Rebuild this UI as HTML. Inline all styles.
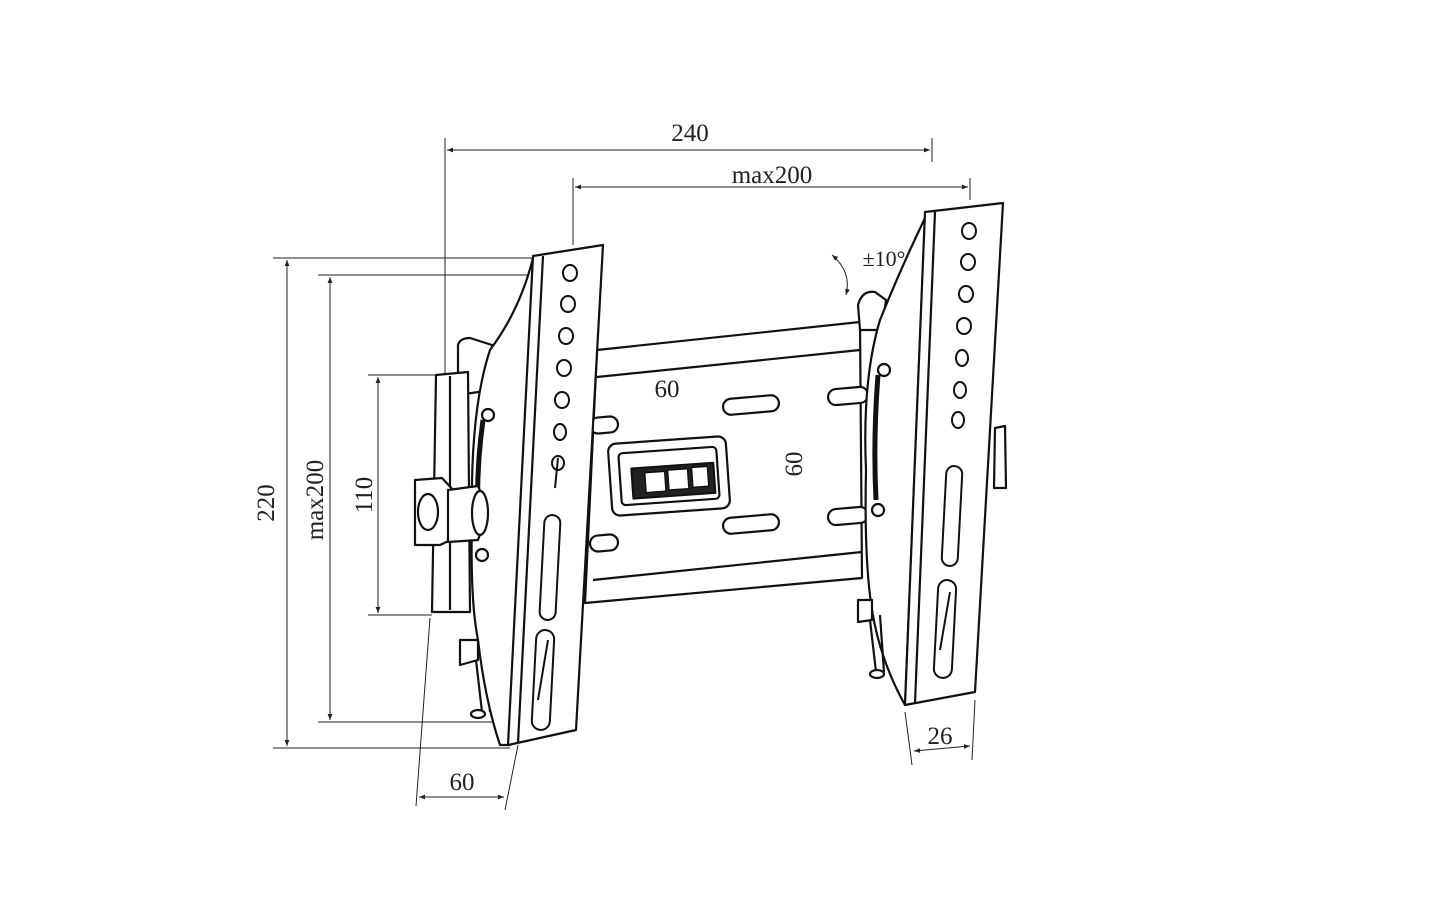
<!DOCTYPE html>
<html><head><meta charset="utf-8"><style>
html,body{margin:0;padding:0;background:#fff;}
svg{display:block;}
text{font-family:"Liberation Serif",serif;fill:#222;}
</style></head><body>
<svg width="1442" height="912" viewBox="0 0 1442 912" xmlns="http://www.w3.org/2000/svg">
<defs>
<marker id="a" viewBox="0 0 10 10" refX="10" refY="5" markerWidth="9" markerHeight="6" orient="auto-start-reverse"><path d="M0,1 L10,5 L0,9 z" fill="#222"/></marker>
</defs>
<rect width="1442" height="912" fill="#fff"/>
<g stroke="#222" stroke-width="1" fill="none">
<!-- dimension 240 -->
<line x1="445" y1="138" x2="445" y2="380"/>
<line x1="932" y1="138" x2="932" y2="162"/>
<line x1="447" y1="150" x2="930" y2="150" marker-start="url(#a)" marker-end="url(#a)"/>
<!-- max200 top -->
<line x1="573" y1="178" x2="573" y2="245"/>
<line x1="970" y1="178" x2="970" y2="200"/>
<line x1="575" y1="187" x2="968" y2="187" marker-start="url(#a)" marker-end="url(#a)"/>
<!-- 220 -->
<line x1="273" y1="258" x2="535" y2="258"/>
<line x1="273" y1="748" x2="510" y2="748"/>
<line x1="287" y1="260" x2="287" y2="746" marker-start="url(#a)" marker-end="url(#a)"/>
<!-- max200 vertical -->
<line x1="318" y1="275" x2="565" y2="275"/>
<line x1="318" y1="722" x2="535" y2="722"/>
<line x1="330" y1="277" x2="330" y2="720" marker-start="url(#a)" marker-end="url(#a)"/>
<!-- 110 -->
<line x1="368" y1="375" x2="440" y2="375"/>
<line x1="368" y1="615" x2="432" y2="615"/>
<line x1="378" y1="377" x2="378" y2="613" marker-start="url(#a)" marker-end="url(#a)"/>
<!-- 60 bottom -->
<line x1="430" y1="618" x2="416" y2="806"/>
<line x1="518" y1="745" x2="505" y2="810"/>
<line x1="419" y1="797" x2="504" y2="797" marker-start="url(#a)" marker-end="url(#a)"/>
<!-- 26 -->
<line x1="905" y1="712" x2="912" y2="765"/>
<line x1="975" y1="700" x2="972" y2="760"/>
<line x1="914" y1="751" x2="970" y2="746" marker-start="url(#a)" marker-end="url(#a)"/>
<!-- 60 center -->
<line x1="605" y1="400" x2="606" y2="414"/>
<line x1="728" y1="387" x2="729" y2="400"/>
<line x1="607" y1="410" x2="727" y2="397" marker-start="url(#a)" marker-end="url(#a)"/>
<!-- 60 vertical -->
<line x1="780" y1="406" x2="822" y2="406"/>
<line x1="780" y1="522" x2="822" y2="522"/>
<line x1="808" y1="408" x2="808" y2="520" marker-start="url(#a)" marker-end="url(#a)"/>
<!-- tilt arrow -->
<path d="M832,255 Q852,272 846,295" marker-start="url(#a)" marker-end="url(#a)"/>
</g>

<g stroke="#111" stroke-width="2.2" fill="#fff" stroke-linejoin="round">
<!-- horizontal plate -->
<path d="M597,350 L860,322 L862,578 L585,603 Z"/>
<path d="M597,377 L860,350 M593,580 L862,552" fill="none"/>
<!-- slots -->
<rect x="723" y="397" width="56" height="16" rx="8" transform="rotate(-5 751 405)"/>
<rect x="723" y="516" width="56" height="16" rx="8" transform="rotate(-5 751 524)"/>
<rect x="828" y="388" width="40" height="16" rx="8" transform="rotate(-5 848 396)"/>
<rect x="828" y="508" width="40" height="16" rx="8" transform="rotate(-5 848 516)"/>
<rect x="590" y="417" width="28" height="16" rx="8" transform="rotate(-5 604 425)"/>
<rect x="590" y="535" width="28" height="16" rx="8" transform="rotate(-5 604 543)"/>
<!-- lock box -->
<rect x="610" y="440" width="118" height="72" rx="8" transform="rotate(-4 669 476)"/>
<rect x="620" y="450" width="98" height="52" rx="4" transform="rotate(-4 669 476)"/>
<rect x="632" y="466" width="82" height="30" fill="#222" transform="rotate(-4 669 476)"/>
<rect x="645" y="471" width="20" height="20" fill="#fff" stroke-width="1.5" transform="rotate(-4 669 476)"/>
<rect x="668" y="470" width="20" height="20" fill="#fff" stroke-width="1.5" transform="rotate(-4 669 476)"/>
<rect x="692" y="469" width="16" height="20" fill="#fff" stroke-width="1.5" transform="rotate(-4 669 476)"/>

<!-- left bracket side parts -->
<path d="M458,345 Q460,338 470,338 L492,345 L492,390 L458,395 Z"/>
<path d="M436,375 L468,372 L470,612 L432,612 Z"/>
<path d="M450,376 L450,610" fill="none"/>
<path d="M460,640 L478,640 L478,660 L460,665 Z"/>
<path d="M476,660 L482,712 M486,655 L490,712" fill="none"/>
<ellipse cx="478" cy="714" rx="7" ry="4"/>
<!-- side profile -->
<path d="M533,258 Q520,310 490,350 Q470,410 472,520 Q470,600 478,640 Q485,700 500,745 L510,745 L533,258 Z"/>
<!-- rail -->
<path d="M483,420 Q476,470 478,520" fill="none" stroke-width="5"/>
<circle cx="488" cy="415" r="6"/><circle cx="482" cy="555" r="6"/>
<!-- knob -->
<path d="M415,480 L442,478 L455,492 L455,538 L440,545 L415,545 Z"/>
<ellipse cx="428" cy="512" rx="10" ry="18"/>
<path d="M448,490 L478,486 Q490,510 478,540 L448,542 Z"/>
<ellipse cx="480" cy="513" rx="8" ry="22"/>
<!-- left front strip -->
<path d="M533,256 L603,245 L576,730 L508,745 Z"/>
<path d="M543,256 L518,743" fill="none"/>
<g stroke-width="2">
<ellipse cx="570" cy="273" rx="7" ry="8"/>
<ellipse cx="568" cy="304" rx="7" ry="8"/>
<ellipse cx="566" cy="336" rx="7" ry="8"/>
<ellipse cx="564" cy="368" rx="7" ry="8"/>
<ellipse cx="562" cy="400" rx="7" ry="8"/>
<ellipse cx="560" cy="432" rx="6" ry="8"/>
<ellipse cx="558" cy="463" rx="6" ry="7"/>
<path d="M558,458 L555,488" fill="none"/>
<rect x="542" y="515" width="16" height="105" rx="8" transform="rotate(3 550 567)"/>
<rect x="534" y="630" width="18" height="100" rx="9" transform="rotate(3 543 680)"/>
<path d="M538,700 L548,640" fill="none"/>
</g>

<!-- right bracket side -->
<path d="M858,305 Q862,290 875,292 L886,300 L882,330 L860,330 Z"/>
<path d="M925,218 Q900,270 880,320 Q862,380 866,470 Q864,560 872,610 Q880,660 905,705 L925,218 Z"/>
<path d="M878,375 Q873,440 876,500" fill="none" stroke-width="5"/>
<circle cx="884" cy="370" r="6"/><circle cx="878" cy="510" r="6"/>
<path d="M858,600 L872,600 L872,620 L858,622 Z"/>
<path d="M870,620 L876,672 M880,615 L884,672" fill="none"/>
<ellipse cx="877" cy="674" rx="7" ry="4"/>
<path d="M995,428 L1005,426 L1006,488 L994,488 Z"/>
<!-- right front strip -->
<path d="M925,212 L1003,203 L975,692 L905,705 Z"/>
<path d="M935,212 L915,703" fill="none"/>
<g stroke-width="2">
<ellipse cx="969" cy="231" rx="7" ry="8"/>
<ellipse cx="968" cy="262" rx="7" ry="8"/>
<ellipse cx="966" cy="294" rx="7" ry="8"/>
<ellipse cx="964" cy="326" rx="7" ry="8"/>
<ellipse cx="962" cy="358" rx="6" ry="8"/>
<ellipse cx="960" cy="390" rx="6" ry="8"/>
<ellipse cx="958" cy="420" rx="6" ry="8"/>
<rect x="944" y="466" width="16" height="100" rx="8" transform="rotate(3 952 516)"/>
<rect x="936" y="580" width="18" height="98" rx="9" transform="rotate(3 945 629)"/>
<path d="M940,650 L950,592" fill="none"/>
</g>
</g>

<g font-size="25">
<text x="690" y="141" text-anchor="middle">240</text>
<text x="772" y="183" text-anchor="middle">max200</text>
<text x="667" y="397" text-anchor="middle">60</text>
<text x="462" y="790" text-anchor="middle">60</text>
<text x="940" y="744" text-anchor="middle">26</text>
<text x="884" y="266" text-anchor="middle" font-size="22">±10°</text>
<text transform="translate(274,503) rotate(-90)" text-anchor="middle">220</text>
<text transform="translate(323,500) rotate(-90)" text-anchor="middle">max200</text>
<text transform="translate(372,495) rotate(-90)" text-anchor="middle">110</text>
<text transform="translate(802,464) rotate(-90)" text-anchor="middle">60</text>
</g>
</svg>
</body></html>
